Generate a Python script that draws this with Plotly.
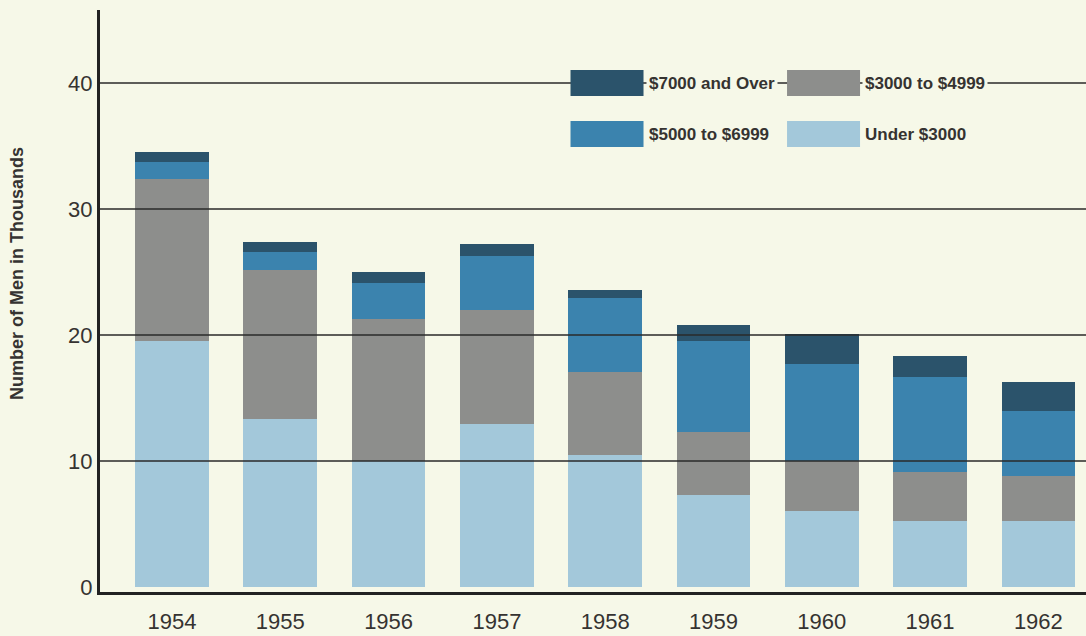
import plotly.graph_objects as go

years = ["1954", "1955", "1956", "1957", "1958", "1959", "1960", "1961", "1962"]
under_3000 = [19.5, 13.3, 10.0, 12.9, 10.5, 7.3, 6.0, 5.2, 5.2]
from_3000_to_4999 = [12.9, 11.9, 11.3, 9.1, 6.6, 5.0, 4.0, 3.9, 3.6]
from_5000_to_6999 = [1.3, 1.4, 2.8, 4.3, 5.8, 7.2, 7.7, 7.6, 5.2]
over_7000 = [0.8, 0.8, 0.9, 0.9, 0.7, 1.3, 2.4, 1.6, 2.3]

series_names = ["Under $3000", "$3000 to $4999", "$5000 to $6999", "$7000 and Over"]
series_values = [under_3000, from_3000_to_4999, from_5000_to_6999, over_7000]
colors = ["#a3c8da", "#8d8e8c", "#3b83ae", "#2b536b"]
y_ticks = [0, 10, 20, 30, 40]
bg = "#f6f8e8"
ink = "#353331"
font_family = "Liberation Sans, Arial, sans-serif"

fig = go.Figure()
for name, vals, col in zip(series_names, series_values, colors):
    fig.add_trace(go.Bar(x=years, y=vals, name=name, marker=dict(color=col, line=dict(width=0)),
                         width=0.68, showlegend=False))

shapes = []
for t in y_ticks[1:]:
    shapes.append(dict(type="line", xref="paper", yref="y", x0=0, x1=1, y0=t, y1=t,
                       line=dict(color="#2a2a2a", width=1.5), layer="above"))

# custom legend (2 x 2 large swatches)
legend_items = [
    ("$7000 and Over", colors[3], 0.4772, 0),
    ("$3000 to $4999", colors[1], 0.6968, 0),
    ("$5000 to $6999", colors[2], 0.4772, 1),
    ("Under $3000", colors[0], 0.6968, 1),
]
rows_px = [(70, 96), (121, 147)]
annotations = []
for label, col, xp, row in legend_items:
    ytop, ybot = rows_px[row]
    shapes.append(dict(type="rect", xref="paper", yref="paper",
                       x0=xp, x1=xp + 73 / 986,
                       y0=(592 - ybot) / 582, y1=(592 - ytop) / 582,
                       fillcolor=col, line=dict(width=0), layer="above"))
    annotations.append(dict(xref="paper", yref="paper", x=xp + 75 / 986,
                            y=(592 - (ytop + ybot) / 2) / 582, xanchor="left", yanchor="middle",
                            text="<b>" + label + "</b>", showarrow=False, bgcolor=bg, borderpad=2,
                            font=dict(family=font_family, size=17, color=ink)))

annotations.append(dict(xref="paper", yref="paper", x=-83 / 986, y=(592 - 274) / 582,
                        text="<b>Number of Men in Thousands</b>", textangle=-90, showarrow=False,
                        xanchor="center", yanchor="middle",
                        font=dict(family=font_family, size=18, color=ink)))

fig.update_layout(
    barmode="stack",
    width=1086, height=636,
    margin=dict(l=100, r=0, t=10, b=44),
    paper_bgcolor=bg, plot_bgcolor=bg,
    shapes=shapes, annotations=annotations,
    xaxis=dict(range=[-0.665, 8.44], showgrid=False, showline=True, linecolor="#222222",
               linewidth=3, ticks="", ticklabelstandoff=8,
               tickfont=dict(family=font_family, size=22, color=ink)),
    yaxis=dict(range=[-0.4, 45.8], tickvals=y_ticks, showgrid=False, zeroline=False,
               showline=True, linecolor="#222222", linewidth=3, ticks="",
               tickfont=dict(family=font_family, size=22, color=ink)),
)
fig.write_html("out.html")
